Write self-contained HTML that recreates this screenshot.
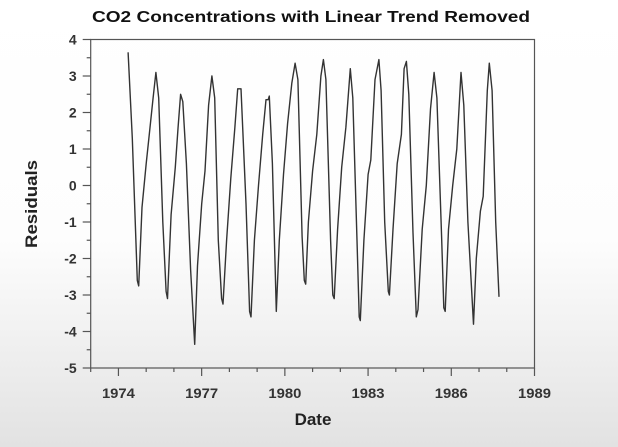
<!DOCTYPE html>
<html><head><meta charset="utf-8"><style>
html,body{margin:0;padding:0;width:618px;height:447px;overflow:hidden;}
body{background:linear-gradient(to bottom,#ffffff 0px,#fdfdfd 240px,#ebebeb 380px,#e2e2e2 447px);font-family:"Liberation Sans",sans-serif;}
svg{position:absolute;left:0;top:0}
</style></head><body>
<svg id="chart" width="618" height="447">
<text x="311" y="22" text-anchor="middle" font-size="16" font-weight="bold" fill="#111" textLength="438" lengthAdjust="spacingAndGlyphs">CO2 Concentrations with Linear Trend Removed</text>
<text x="313" y="425" text-anchor="middle" font-size="17" font-weight="bold" fill="#222">Date</text>
<text transform="translate(37,204) rotate(-90)" text-anchor="middle" font-size="17" font-weight="bold" fill="#222" textLength="88" lengthAdjust="spacingAndGlyphs">Residuals</text>
<g id="axes"></g>
<g id="series"></g>
</svg>
<script>
const dates=[1974.35,1974.5,1974.68,1974.73,1974.85,1975.0,1975.1,1975.25,1975.35,1975.45,1975.6,1975.72,1975.77,1975.9,1976.05,1976.15,1976.24,1976.32,1976.45,1976.6,1976.75,1976.85,1977.0,1977.12,1977.25,1977.37,1977.47,1977.6,1977.72,1977.77,1977.9,1978.05,1978.2,1978.3,1978.42,1978.6,1978.73,1978.78,1978.9,1979.05,1979.2,1979.32,1979.4,1979.44,1979.55,1979.69,1979.8,1979.95,1980.1,1980.25,1980.37,1980.47,1980.62,1980.7,1980.75,1980.85,1981.0,1981.15,1981.3,1981.39,1981.48,1981.65,1981.73,1981.78,1981.9,1982.05,1982.2,1982.36,1982.45,1982.6,1982.68,1982.72,1982.85,1983.0,1983.1,1983.25,1983.39,1983.47,1983.6,1983.73,1983.77,1983.9,1984.05,1984.2,1984.3,1984.38,1984.47,1984.62,1984.74,1984.8,1984.95,1985.1,1985.25,1985.38,1985.48,1985.65,1985.73,1985.78,1985.9,1986.05,1986.2,1986.35,1986.45,1986.6,1986.8,1986.9,1987.05,1987.15,1987.3,1987.37,1987.47,1987.6,1987.72];
const residuals=[3.65,1.3,-2.6,-2.75,-0.6,0.6,1.3,2.4,3.1,2.4,-1.0,-2.9,-3.1,-0.8,0.5,1.6,2.5,2.3,0.6,-2.3,-4.35,-2.2,-0.5,0.4,2.2,3.0,2.4,-1.5,-3.1,-3.25,-1.5,0.2,1.6,2.65,2.65,-0.5,-3.45,-3.6,-1.5,0.0,1.4,2.35,2.35,2.45,0.6,-3.45,-1.5,0.3,1.7,2.8,3.35,2.9,-1.4,-2.6,-2.7,-1.0,0.4,1.4,3.0,3.45,2.9,-1.5,-3.0,-3.1,-1.2,0.5,1.6,3.2,2.4,-1.5,-3.6,-3.7,-1.5,0.3,0.7,2.9,3.45,2.6,-1.0,-2.9,-3.0,-1.2,0.6,1.4,3.2,3.4,2.5,-1.3,-3.6,-3.4,-1.2,0.0,2.1,3.1,2.4,-1.4,-3.35,-3.45,-1.2,0.0,1.0,3.1,2.2,-1.0,-3.8,-2.0,-0.7,-0.3,2.6,3.35,2.6,-1.0,-3.05];
const xTicks=[1974,1977,1980,1983,1986,1989];
const yTicks=[4,3,2,1,0,-1,-2,-3,-4,-5];
const X0=90.7,X1=534.5,Y0=368,Y1=39.5,xmin=1973,xmax=1989,ymin=-5,ymax=4;
const sx=v=>X0+(v-xmin)/(xmax-xmin)*(X1-X0);
const sy=v=>Y0-(v-ymin)/(ymax-ymin)*(Y0-Y1);
const NS="http://www.w3.org/2000/svg";
const ax=document.getElementById('axes');
function mk(t,a,p){const e=document.createElementNS(NS,t);for(const k in a)e.setAttribute(k,a[k]);p.appendChild(e);return e;}
const frame=mk('rect',{x:X0,y:Y1,width:X1-X0,height:Y0-Y1,fill:'none',stroke:'#555','stroke-width':1.2},ax);


for(let yr=xmin;yr<=xmax;yr++){
  const major=xTicks.includes(yr);
  const t=mk('line',{x1:sx(yr),x2:sx(yr),y1:Y0,y2:Y0+(major?8:4),stroke:'#555','stroke-width':1.2},ax);
  
  
}
xTicks.forEach(v=>{
  const t=mk('text',{x:sx(v),y:Y0+30,'text-anchor':'middle','font-size':14,'font-weight':'bold',fill:'#333',textLength:33,lengthAdjust:'spacingAndGlyphs'},ax);
  t.textContent=v;
  
  
});
for(let v=ymin;v<=ymax;v+=0.5){
  const major=Number.isInteger(v);
  const t=mk('line',{x1:X0-(major?8:4),x2:X0,y1:sy(v),y2:sy(v),stroke:'#555','stroke-width':1.2},ax);
  
  
}
yTicks.forEach(v=>{
  const t=mk('text',{x:X0-14,y:sy(v)+5,'text-anchor':'end','font-size':14,'font-weight':'bold',fill:'#333'},ax);
  t.textContent=v;
  
  
});
const d=dates.map((x,i)=>(i?'L':'M')+sx(x).toFixed(1)+' '+sy(residuals[i]).toFixed(1)).join(' ');
const line=mk('path',{d:d,fill:'none',stroke:'#333','stroke-width':1.4,'stroke-linejoin':'round'},document.getElementById('series'));


</script>
</body></html>
